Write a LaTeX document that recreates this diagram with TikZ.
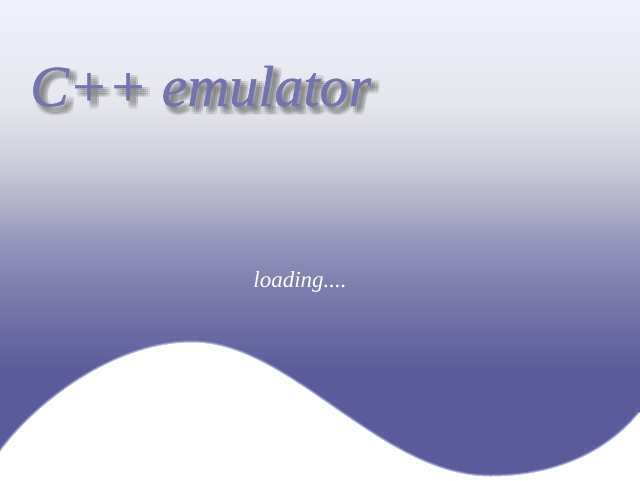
\documentclass[tikz,border=0pt]{standalone}
\usepackage{fontspec}
\setmainfont{Liberation Serif}
\newfontfamily\titlefont[FakeBold=0.8]{Liberation Serif}
\definecolor{bgA}{HTML}{EEF0FC}
\definecolor{bgB}{HTML}{E6E6EE}
\definecolor{bgC}{HTML}{D4D4E0}
\definecolor{bgD}{HTML}{B4B4CC}
\definecolor{bgE}{HTML}{9090B8}
\definecolor{bgF}{HTML}{7878AA}
\definecolor{bgG}{HTML}{6464A0}
\definecolor{bgH}{HTML}{5B5B9B}
\definecolor{titlecol}{HTML}{7474AC}
\definecolor{glowcol}{HTML}{C8D4F4}
\tikzset{
  titletext/.style={font=\titlefont\fontsize{58}{58}\selectfont\itshape, inner sep=0pt, anchor=base west},
  loadtext/.style={font=\fontsize{23}{23}\selectfont\itshape, text=white, inner sep=0pt, anchor=base}
}
\begin{document}
\begin{tikzpicture}[x=1pt,y=-1pt]
\useasboundingbox (0,0) rectangle (640,480);
% background gradient
\shade[top color=bgA, bottom color=bgB] (0,0) rectangle (640,100.5);
\shade[top color=bgB, bottom color=bgC] (0,100) rectangle (640,150.5);
\shade[top color=bgC, bottom color=bgD] (0,150) rectangle (640,200.5);
\shade[top color=bgD, bottom color=bgE] (0,200) rectangle (640,250.5);
\shade[top color=bgE, bottom color=bgF] (0,250) rectangle (640,300.5);
\shade[top color=bgF, bottom color=bgG] (0,300) rectangle (640,350.5);
\shade[top color=bgG, bottom color=bgH] (0,350) rectangle (640,370.5);
\fill[bgH] (0,370) rectangle (640,480);
% wave
\def\wavepath{(0,453) .. controls (30,410) and (110,343) .. (192,343)
  .. controls (290,343) and (380,477) .. (490,477)
  .. controls (560,477) and (610,450) .. (640,413)}
\draw[glowcol, line width=5pt, opacity=0.35] \wavepath;
\draw[glowcol, line width=3pt, opacity=0.6] \wavepath;
\fill[white] \wavepath -- (640,480) -- (0,480) -- cycle;
\draw[white, line width=1pt] \wavepath;
% title shadow (soft blur)
\foreach \dx in {2,4,6,8}{
  \foreach \dy in {2,4,6,8}{
    \node[titletext, text=black!60, text opacity=0.08] at (30+\dx,106+\dy) {C++ emulator};
  }
}
\node[titletext, text=titlecol] (title) at (30,106) {C++ emulator};
\node[loadtext] (loading) at (300,287) {loading....};
\end{tikzpicture}
\end{document}
